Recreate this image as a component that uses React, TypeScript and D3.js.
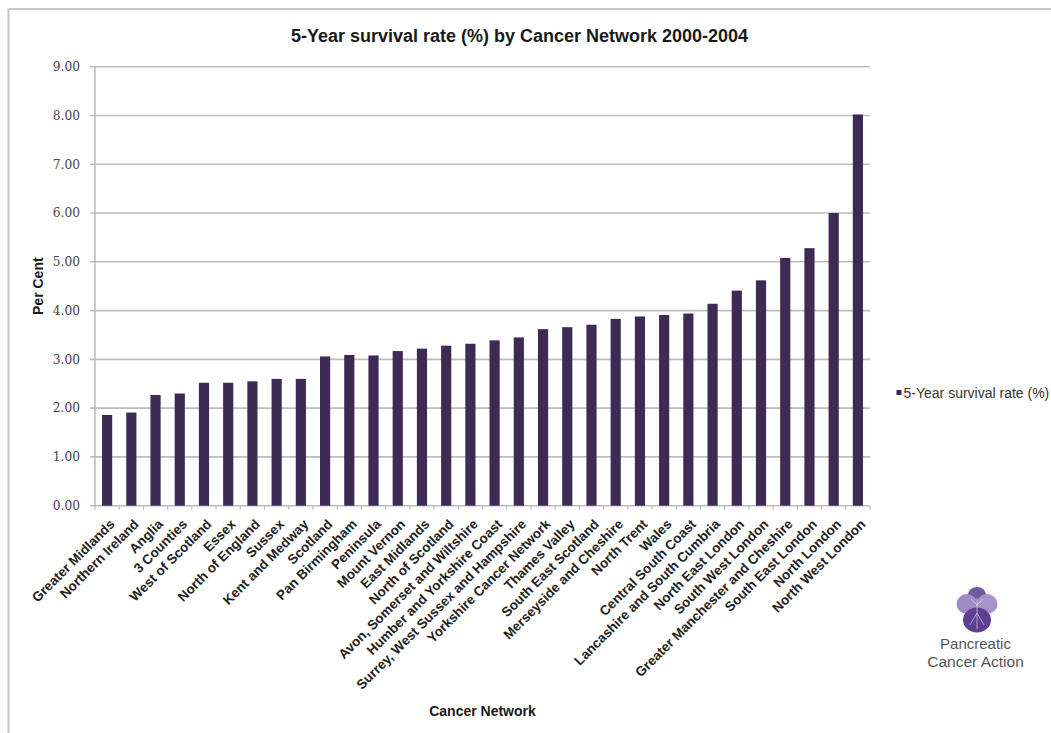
import React from "react";
import * as d3 from "d3";

// Cancer networks, sorted by 5-year survival rate
const networks: string[] = [
  "Greater Midlands",
  "Northern Ireland",
  "Anglia",
  "3 Counties",
  "West of Scotland",
  "Essex",
  "North of England",
  "Sussex",
  "Kent and Medway",
  "Scotland",
  "Pan Birmingham",
  "Peninsula",
  "Mount Vernon",
  "East Midlands",
  "North of Scotland",
  "Avon, Somerset and Wiltshire",
  "Humber and Yorkshire Coast",
  "Surrey, West Sussex and Hampshire",
  "Yorkshire Cancer Network",
  "Thames Valley",
  "South East Scotland",
  "Merseyside and Cheshire",
  "North Trent",
  "Wales",
  "Central South Coast",
  "Lancashire and South Cumbria",
  "North East London",
  "South West London",
  "Greater Manchester and Cheshire",
  "South East London",
  "North London",
  "North West London",
];

// 5-year survival rate (%)
const survivalRates: number[] = [
  1.86, 1.91, 2.27, 2.3, 2.52, 2.52, 2.55, 2.6, 2.6, 3.06, 3.09, 3.08, 3.17,
  3.22, 3.28, 3.32, 3.39, 3.45, 3.62, 3.66, 3.71, 3.83, 3.88, 3.91, 3.94, 4.14,
  4.41, 4.62, 5.08, 5.28, 6.0, 8.02,
];

const yTicks: number[] = [0, 1, 2, 3, 4, 5, 6, 7, 8, 9];

const seriesName = "5-Year survival rate (%)";
const chartTitle = "5-Year survival rate (%) by Cancer Network 2000-2004";

const W = 1051;
const H = 733;
const left = 95;
const right = 870;
const top = 66.7;
const bottom = 505.7;

const barColor = "#3d2b55";
const gridColor = "#bdbdbd";
const sans = "'Liberation Sans', Arial, Helvetica, sans-serif";

export default function App() {
  const x = d3
    .scaleBand<string>()
    .domain(networks)
    .range([left, right])
    .paddingInner(0.58)
    .paddingOuter(0.29);
  const y = d3.scaleLinear().domain([0, 9]).range([bottom, top]);
  const step = x.step();
  const bw = x.bandwidth();

  const boundaries = d3.range(networks.length + 1).map((i) => left + i * step);

  return (
    <svg
      width={W}
      height={H}
      viewBox={`0 0 ${W} ${H}`}
      style={{ position: "absolute", left: 0, top: 0, background: "#fff" }}
    >
      {/* outer frame */}
      <line x1={8.5} y1={9} x2={8.5} y2={H} stroke="#c6c6c6" strokeWidth={2} />
      <line x1={8.5} y1={9} x2={W} y2={9} stroke="#c6c6c6" strokeWidth={2} />

      <text
        x={519.5}
        y={42}
        textAnchor="middle"
        fontFamily={sans}
        fontWeight="bold"
        fontSize={18}
        fill="#1a1a1a"
      >
        {chartTitle}
      </text>

      {/* horizontal gridlines and y ticks */}
      {yTicks.map((t) => (
        <g key={t}>
          <line
            x1={left - 5}
            x2={right}
            y1={y(t)}
            y2={y(t)}
            stroke={gridColor}
            strokeWidth={1.6}
          />
          <text
            x={80}
            y={y(t)}
            dy="0.35em"
            textAnchor="end"
            fontFamily="'DejaVu Serif', Georgia, serif"
            fontSize={12.2}
            fill="#454545"
          >
            {t.toFixed(2)}
          </text>
        </g>
      ))}

      {/* y axis line */}
      <line x1={left} x2={left} y1={top} y2={bottom} stroke={gridColor} strokeWidth={1.6} />

      {/* x ticks between categories */}
      {boundaries.map((bx, i) => (
        <line
          key={i}
          x1={bx}
          x2={bx}
          y1={bottom}
          y2={bottom + 4}
          stroke={gridColor}
          strokeWidth={1.2}
        />
      ))}

      {/* bars */}
      {networks.map((n, i) => (
        <rect
          key={n}
          x={x(n)!}
          y={y(survivalRates[i])}
          width={bw}
          height={bottom - y(survivalRates[i])}
          fill={barColor}
        />
      ))}

      {/* category labels */}
      {networks.map((n) => {
        const cx = x(n)! + bw / 2;
        return (
          <text
            key={n}
            transform={`translate(${cx + 5},${bottom + 16}) rotate(-45)`}
            dy="0.35em"
            textAnchor="end"
            fontFamily={sans}
            fontWeight="bold"
            fontSize={13.5}
            fill="#222"
          >
            {n}
          </text>
        );
      })}

      <text
        transform={`translate(38,${(top + bottom) / 2}) rotate(-90)`}
        dy="0.35em"
        textAnchor="middle"
        fontFamily={sans}
        fontWeight="bold"
        fontSize={14}
        fill="#1a1a1a"
      >
        Per Cent
      </text>

      <text
        x={(left + right) / 2}
        y={715.5}
        textAnchor="middle"
        fontFamily={sans}
        fontWeight="bold"
        fontSize={14}
        fill="#1a1a1a"
      >
        Cancer Network
      </text>

      {/* legend */}
      <rect x={896.5} y={390} width={5} height={5} fill={barColor} />
      <text x={903.5} y={397.5} fontFamily={sans} fontSize={14} fill="#333">
        {seriesName}
      </text>

      {/* logo: pansy mark with wordmark */}
      <g>
        <ellipse cx={977} cy={595} rx={9} ry={8} fill="#6e5a9c" />
        <ellipse cx={967} cy={604} rx={10.5} ry={10} fill="#9f8bc6" />
        <ellipse cx={987} cy={604} rx={10.5} ry={10} fill="#a894cb" />
        <ellipse cx={977} cy={620} rx={14} ry={12.5} fill="#5d3f93" />
        <path
          d="M977 598 L977 629 M977 613 L970 625 M977 613 L984 625 M977 605 L971 599 M977 605 L983 599"
          stroke="#e7e0f2"
          strokeWidth={0.8}
          fill="none"
          opacity={0.75}
        />
        <text x={975.5} y={649} textAnchor="middle" fontFamily={sans} fontSize={15} fill="#555">
          Pancreatic
        </text>
        <text x={975.5} y={666.5} textAnchor="middle" fontFamily={sans} fontSize={15.5} fill="#555">
          Cancer Action
        </text>
      </g>
    </svg>
  );
}
